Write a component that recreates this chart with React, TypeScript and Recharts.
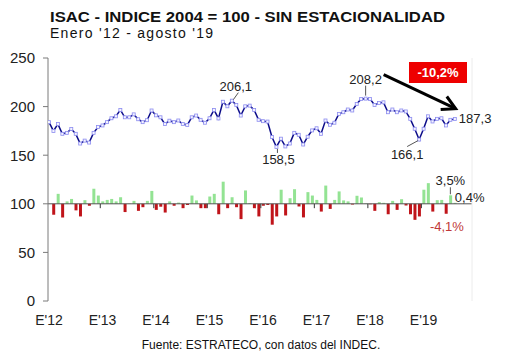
import React from 'react';
import {
  ComposedChart, Line, Bar, Cell, XAxis, YAxis, ReferenceLine, ReferenceDot,
} from 'recharts';

const FONT = '"Liberation Sans", Arial, sans-serif';

// ISAC index, Jan 2012 .. Aug 2019 (92 months)
const isac = [
  184, 175, 182, 172, 173, 177, 172, 162, 165, 163,
  173, 179, 180.6, 184, 188, 190, 196.6, 189, 189, 192,
  187, 184, 186, 196, 191, 189, 182, 185.5, 184, 185.7,
  182, 181, 189, 190.8, 186.4, 183.4, 188, 196.6, 187.8, 205,
  200.3, 206.1, 201.7, 190.8, 200.3, 201, 196.6, 186.4, 185, 184.6,
  168.7, 158.5, 167, 159, 162, 173, 171, 161, 169, 175.5,
  177.7, 172, 185.7, 181.3, 183.4, 192.5, 194.2, 197, 196, 202.7,
  207.8, 208.2, 207.8, 201.7, 203.7, 204.4, 194.2, 197, 194.2, 196,
  195, 187.4, 177.2, 166.1, 177.2, 190, 184.7, 187.4, 188, 180.6,
  186.4, 187.3,
];

// monthly variation, %
const variacion = [
  null, -4.5, 4.1, -5.6, 1.0, 2.0, -2.7, -5.2, 1.5, -0.8,
  6.2, 3.4, 1.0, 1.6, 2.0, 1.0, 2.7, -3.4, 0.1, 1.2,
  -2.9, -1.4, 1.2, 5.3, -2.5, -1.2, -3.6, 1.0, -0.8, 0.5,
  -1.8, -0.5, 3.4, 1.4, -1.8, -1.8, 3.0, 4.1, -4.3, 9.1,
  -1.8, 2.7, -1.4, -6.3, 5.5, 0.3, -1.8, -5.2, -0.8, -0.5,
  -8.6, -5.2, 5.8, -4.8, 2.3, 6.0, -1.1, -5.6, 4.8, 3.4,
  1.6, -3.2, 7.5, -2.1, 1.6, 5.1, 1.4, 1.0, -0.3, 3.3,
  2.6, 0.2, -0.2, -2.9, 0.7, 0.4, -4.3, 1.2, -2.5, 1.9,
  -0.7, -4.3, -6.6, -5.2, 5.8, 8.5, -3.2, 1.5, 1.6, -4.1,
  3.5, 0.4,
];

const yearTicks = [0, 12, 24, 36, 48, 60, 72, 84];
const yearLabels = ["E'12", "E'13", "E'14", "E'15", "E'16", "E'17", "E'18", "E'19"];
const yearBoundaries = [11.5, 23.5, 35.5, 47.5, 59.5, 71.5, 83.5];
const leftTicks = [0, 50, 100, 150, 200, 250];
const rightTicks = [-40, -30, -20, -10, 0, 10, 20, 30, 40, 50, 60];

const data = isac.map((v, i) => ({ m: i, isac: v, varPct: variacion[i] }));

const GREEN = '#93e393';
const RED = '#c0141a';

const SquareDot = (p: any) => {
  const { cx, cy, index } = p;
  if (cx == null || cy == null) return <g key={index} />;
  return (
    <rect key={index} x={cx - 1.5} y={cy - 1.5} width={3} height={3}
      fill="#f4f4ff" stroke="#8c8cf0" strokeWidth={0.8} />
  );
};

const makeLabel = (text: string, tx: number, ty: number, anchor: string,
  leader: number[] | null, color = '#222') => (p: any) => {
  const { cx, cy } = p;
  return (
    <g>
      {leader && (
        <line x1={cx + leader[0]} y1={cy + leader[1]} x2={cx + leader[2]} y2={cy + leader[3]}
          stroke="#555" strokeWidth={1} />
      )}
      <text x={cx + tx} y={cy + ty} textAnchor={anchor as any} fontSize={13}
        fontFamily={FONT} fill={color}>{text}</text>
    </g>
  );
};

const peakShape = (p: any) => {
  const { cx, cy } = p;
  const sx = cx + 18, sy = cy - 24, ex = cx + 90, ey = cy + 10;
  const ang = Math.atan2(ey - sy, ex - sx);
  const L = 15, w = 0.5;
  const a1x = ex - L * Math.cos(ang - w), a1y = ey - L * Math.sin(ang - w);
  const a2x = ex - L * Math.cos(ang + w), a2y = ey - L * Math.sin(ang + w);
  return (
    <g>
      <line x1={cx} y1={cy - 3} x2={cx} y2={cy - 13} stroke="#555" strokeWidth={1} />
      <text x={cx} y={cy - 15} textAnchor="middle" fontSize={13} fontFamily={FONT} fill="#222">208,2</text>
      <line x1={sx} y1={sy} x2={ex} y2={ey} stroke="#000" strokeWidth={3} />
      <polyline points={`${a1x},${a1y} ${ex},${ey} ${a2x},${a2y}`} fill="none" stroke="#000" strokeWidth={3} />
    </g>
  );
};

export default function App() {
  return (
    <div style={{ position: 'absolute', left: 0, top: 0, width: 530, height: 355, background: '#fff' }}>
      <ComposedChart width={530} height={355} data={data}
        margin={{ top: 58, right: 0, bottom: 24, left: 0 }}>
        <XAxis type="number" dataKey="m" domain={[-0.22, 94.85]} ticks={yearTicks}
          allowDataOverflow
          tickFormatter={(v: number) => yearLabels[yearTicks.indexOf(v)]}
          axisLine={false} tickLine={false} tickSize={0} tickMargin={14} height={30}
          tick={{ fontSize: 14, fill: '#222', fontFamily: FONT }} interval={0} />
        <YAxis yAxisId="left" domain={[0, 250]} ticks={leftTicks} width={48}
          axisLine={{ stroke: '#7a7a7a' }} tickLine={{ stroke: '#7a7a7a' }} tickSize={5} tickMargin={8}
          tick={{ fontSize: 15, fill: '#222', fontFamily: FONT }} interval={0} />
        <YAxis yAxisId="right" orientation="right" domain={[-40, 60]} ticks={rightTicks} width={58}
          axisLine={{ stroke: '#ececec' }} tickLine={{ stroke: '#ececec' }} tickSize={4} tick={false} />
        <ReferenceLine yAxisId="left" y={100} stroke="#555" strokeWidth={1} />
        {yearBoundaries.map((b) => (
          <ReferenceLine key={b} yAxisId="left" segment={[{ x: b, y: 100 }, { x: b, y: 95.5 }]}
            stroke="#333" strokeWidth={1} />
        ))}
        <Bar yAxisId="right" dataKey="varPct" barSize={3} isAnimationActive={false}>
          {data.map((d, i) => (
            <Cell key={i} fill={(d.varPct ?? 0) >= 0 ? GREEN : RED} />
          ))}
        </Bar>
        <Line yAxisId="left" dataKey="isac" stroke="#0c0c88" strokeWidth={1.5}
          dot={SquareDot} activeDot={false} isAnimationActive={false} />
        <ReferenceDot yAxisId="left" x={41} y={isac[41]} r={1}
          shape={makeLabel('206,1', 4, -10, 'middle', [1.5, -1, 6.5, -8])} />
        <ReferenceDot yAxisId="left" x={51} y={isac[51]} r={1}
          shape={makeLabel('158,5', 2, 17.5, 'middle', [1, 2, 1, 6])} />
        <ReferenceDot yAxisId="left" x={71} y={isac[71]} r={1} shape={peakShape} />
        <ReferenceDot yAxisId="left" x={83} y={isac[83]} r={1}
          shape={makeLabel('166,1', -12, 19, 'middle', [-1, 1, -12, 7])} />
        <ReferenceDot yAxisId="left" x={91} y={isac[91]} r={1}
          shape={makeLabel('187,3', 4, 4.5, 'start', null)} />
        <ReferenceDot yAxisId="right" x={90} y={variacion[90] as number} r={1}
          shape={makeLabel('3,5%', 0, -10.5, 'middle', [0, -1, 0, -8])} />
        <ReferenceDot yAxisId="right" x={91} y={variacion[91] as number} r={1}
          shape={makeLabel('0,4%', 0, -1, 'start', null)} />
        <ReferenceDot yAxisId="right" x={89} y={variacion[89] as number} r={1}
          shape={makeLabel('-4,1%', 1, 17, 'middle', null, '#c03838')} />
      </ComposedChart>
      <svg width={530} height={355} style={{ position: 'absolute', left: 0, top: 0, pointerEvents: 'none' }}>
        <text x={50} y={22} fontSize={14.5} fontWeight="bold" fontFamily={FONT} fill="#111"
          textLength={395} lengthAdjust="spacingAndGlyphs">ISAC - INDICE 2004 = 100 - SIN ESTACIONALIDAD</text>
        <text x={50} y={37.5} fontSize={14} fontFamily={FONT} fill="#111"
          textLength={163} lengthAdjust="spacing">Enero '12 - agosto '19</text>
        <rect x={409} y={62} width={58} height={21} fill="#ee0000" />
        <text x={438} y={77} textAnchor="middle" fontSize={13} fontWeight="bold" fontFamily={FONT} fill="#fff">-10,2%</text>
        <text x={261} y={349} textAnchor="middle" fontSize={12} fontFamily={FONT} fill="#111">Fuente: ESTRATECO, con datos del INDEC.</text>
      </svg>
    </div>
  );
}
